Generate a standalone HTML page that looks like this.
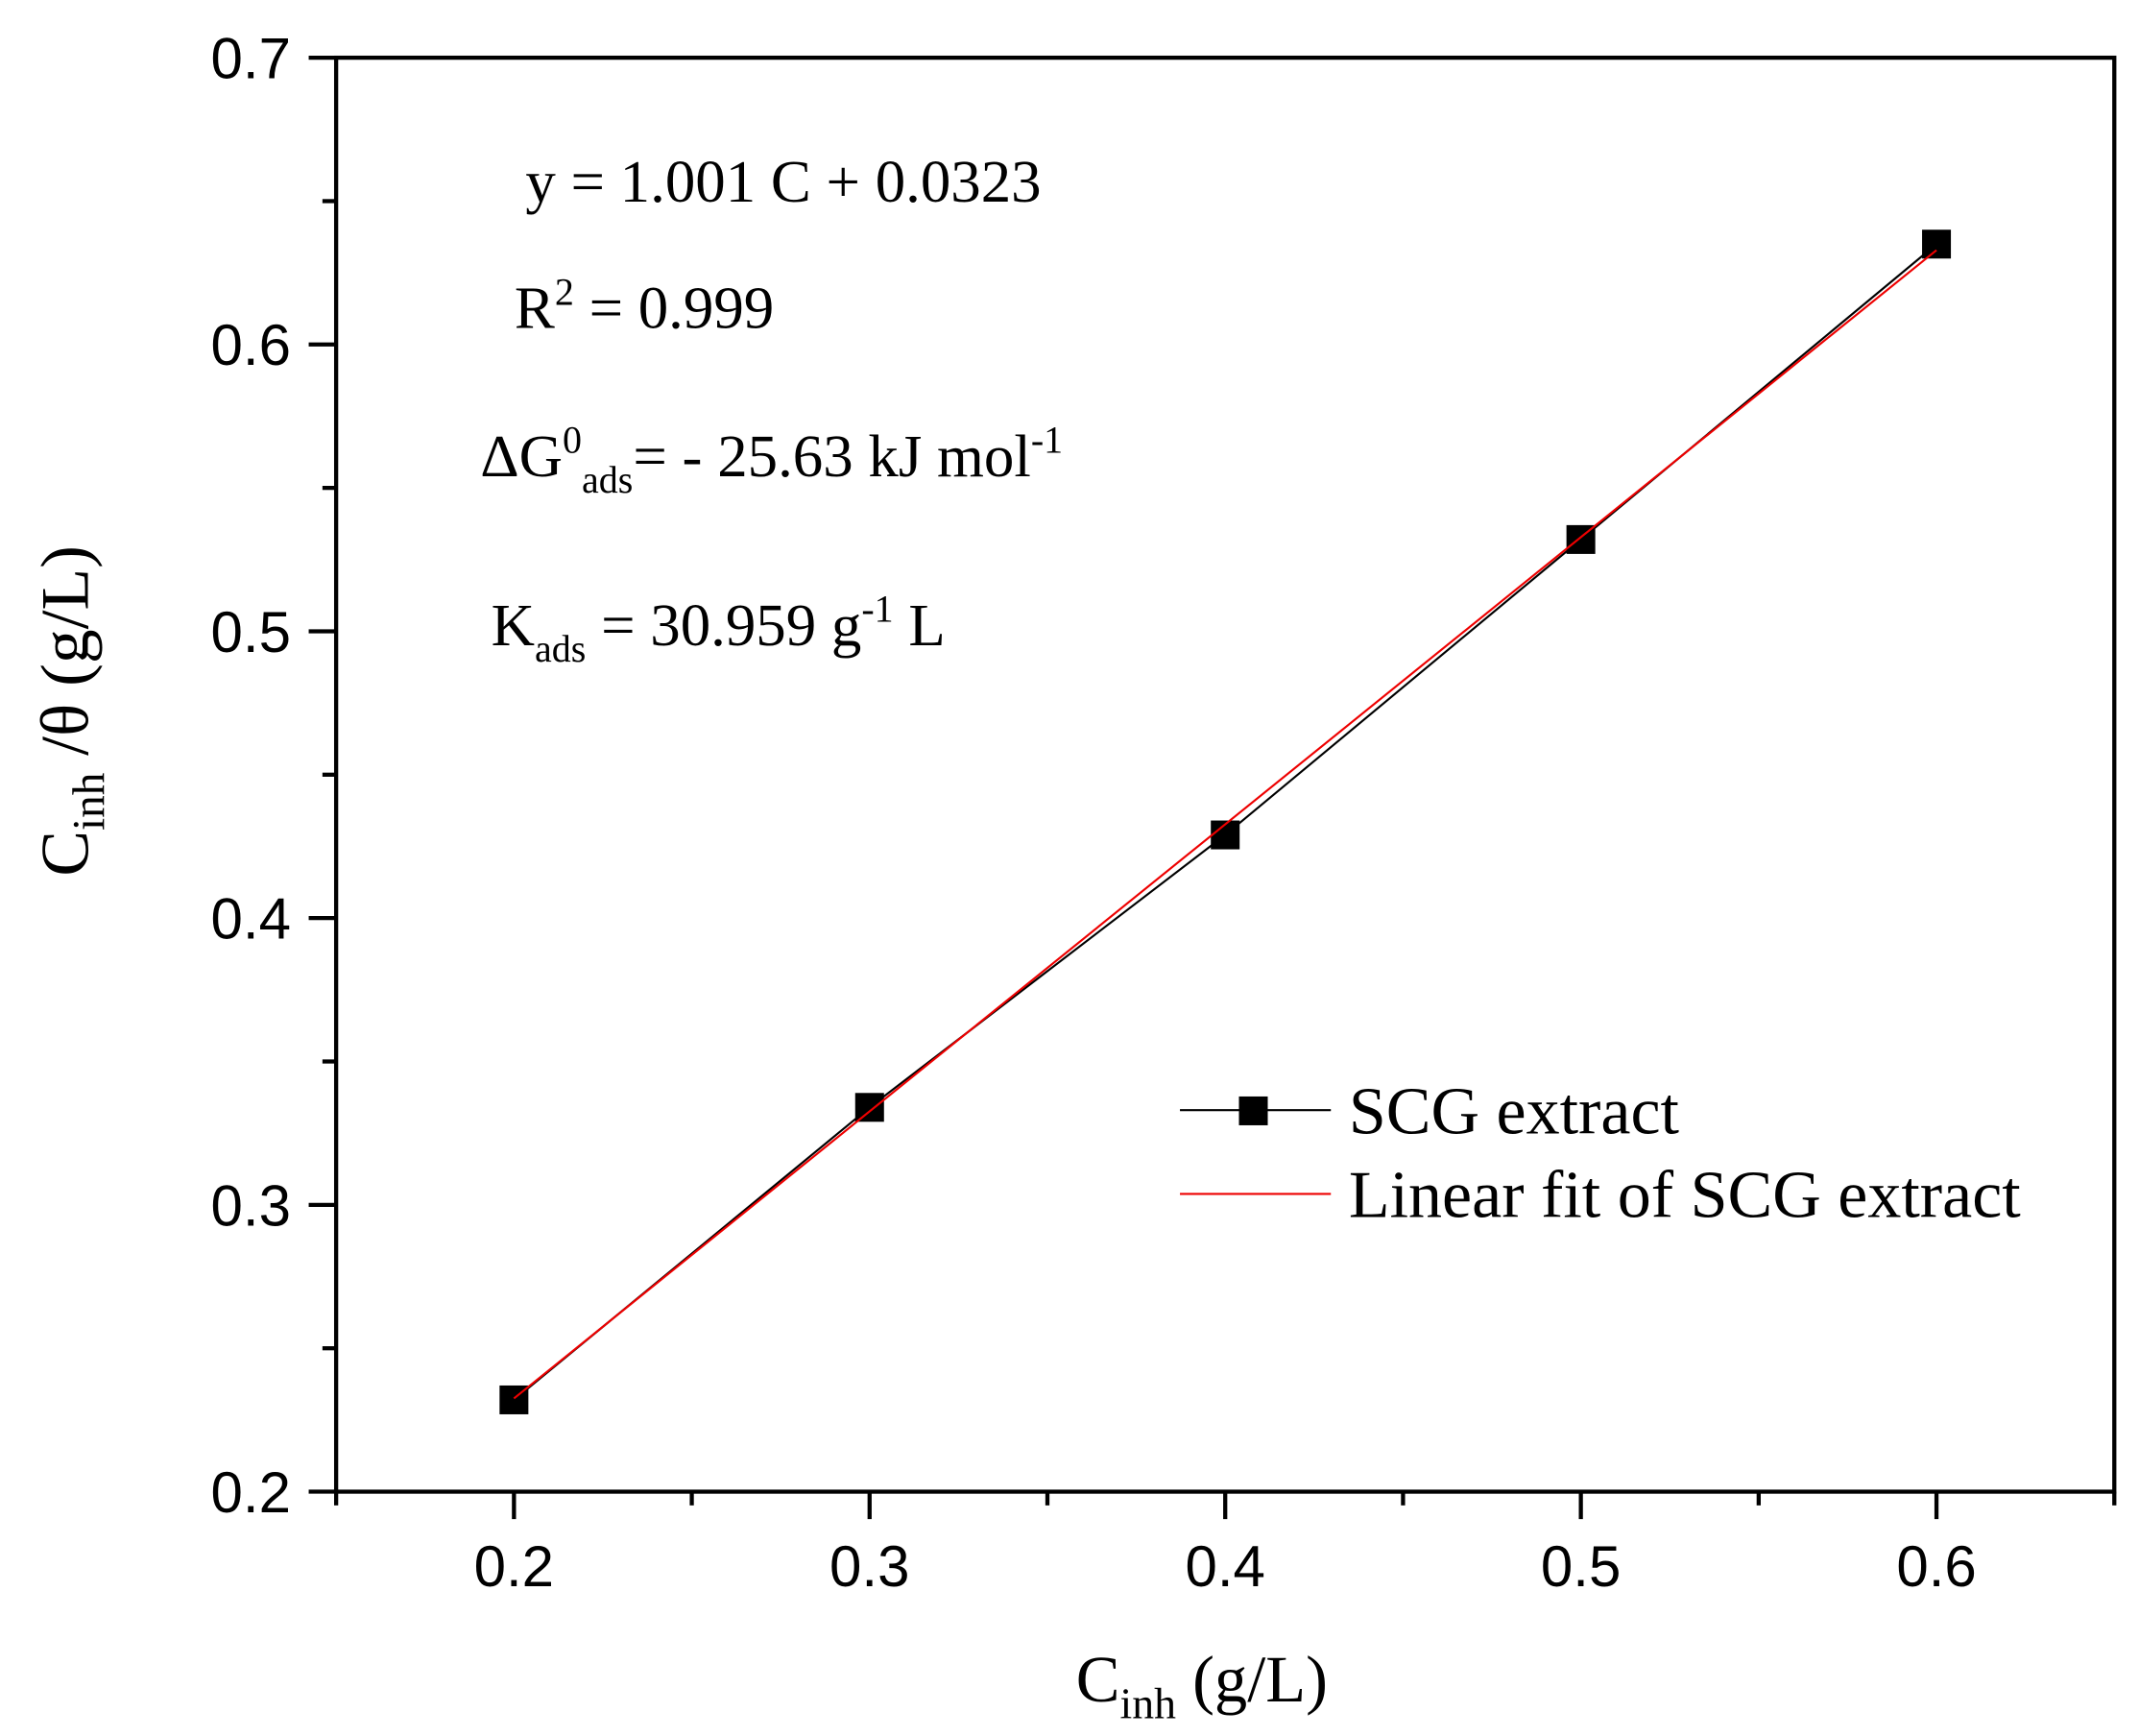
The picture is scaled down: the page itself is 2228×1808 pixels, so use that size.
<!DOCTYPE html>
<html><head><meta charset="utf-8"><style>html,body{margin:0;padding:0;background:#fff}svg{display:block}</style></head>
<body>
<svg id="chart" width="2228" height="1808" viewBox="0 0 1559 1265" xmlns="http://www.w3.org/2000/svg">
<rect width="1559" height="1265" fill="#fff"/>
<g id="axes"></g>
<g id="marks"></g>
<g font-family="Liberation Serif, serif" font-size="44" fill="#000">
<text x="383" y="147">y = 1.001 C + 0.0323</text>
<text x="375" y="239">R<tspan font-size="28" dy="-17">2</tspan><tspan dy="17"> = 0.999</tspan></text>
<text x="350" y="347">ΔG<tspan font-size="28" dy="-17">0</tspan><tspan font-size="28" dy="29">ads</tspan><tspan dy="-12">= - 25.63 kJ mol</tspan><tspan font-size="28" dy="-17">-1</tspan></text>
<text x="358" y="470">K<tspan font-size="28" dy="12">ads</tspan><tspan dy="-12"> = 30.959 g</tspan><tspan font-size="28" dy="-17">-1</tspan><tspan dy="17"> L</tspan></text>
<text x="876" y="1240" font-size="48" text-anchor="middle">C<tspan font-size="32" dy="12">inh</tspan><tspan dy="-12"> (g/L)</tspan></text>
<text transform="translate(64,518) rotate(-90)" font-size="50" text-anchor="middle">C<tspan font-size="33" dy="12">inh</tspan><tspan dy="-12"> /θ (g/L)</tspan></text>
</g>
<g font-family="Liberation Serif, serif" font-size="49">
<line x1="860" y1="809" x2="970" y2="809" stroke="#000" stroke-width="1.5"/>
<rect x="903" y="799" width="21" height="21" fill="#000"/>
<text x="983" y="826">SCG extract</text>
<line x1="860" y1="870" x2="970" y2="870" stroke="#e00" stroke-width="1.5"/>
<text x="983" y="887">Linear fit of SCG extract</text>
</g>
</svg>
<script>
const categories = [0.2, 0.3, 0.4, 0.5, 0.6];
const seriesValues = [0.232, 0.334, 0.429, 0.532, 0.635];
const fitSlope = 1.001;
const fitIntercept = 0.0323;
const xTickLabels = ["0.2","0.3","0.4","0.5","0.6"];
const yTickLabels = ["0.2","0.3","0.4","0.5","0.6","0.7"];
const NS = "http://www.w3.org/2000/svg";
const L=245,R=1541,T=42,B=1087, xmin=0.15,xmax=0.65,ymin=0.2,ymax=0.7;
const sx=v=>L+(v-xmin)/(xmax-xmin)*(R-L);
const sy=v=>B-(v-ymin)/(ymax-ymin)*(B-T);
function mk(tag,attrs,parent){const e=document.createElementNS(NS,tag);for(const k in attrs)e.setAttribute(k,attrs[k]);parent.appendChild(e);return e;}
const ax=document.getElementById('axes'), mg=document.getElementById('marks');
const frame=mk('rect',{x:L,y:T,width:R-L,height:B-T,fill:'none',stroke:'#000','stroke-width':3},ax);


xTickLabels.forEach(t=>{const v=parseFloat(t);const x=sx(v);
 mk('line',{x1:x,y1:B,x2:x,y2:B+20,stroke:'#000','stroke-width':3},ax);
 const tx=mk('text',{x:x,y:B+69,'text-anchor':'middle','font-family':'Liberation Sans, sans-serif','font-size':42},ax);tx.textContent=t;
 
 });
for(let v=xmin;v<=xmax+1e-9;v+=0.1){const x=sx(v);mk('line',{x1:x,y1:B,x2:x,y2:B+10,stroke:'#000','stroke-width':3},ax);}
yTickLabels.forEach(t=>{const v=parseFloat(t);const y=sy(v);
 mk('line',{x1:L-20,y1:y,x2:L,y2:y,stroke:'#000','stroke-width':3},ax);
 const tx=mk('text',{x:L-33,y:y+15,'text-anchor':'end','font-family':'Liberation Sans, sans-serif','font-size':42},ax);tx.textContent=t;
 
 });
for(let v=0.25;v<0.7;v+=0.1){const y=sy(v);mk('line',{x1:L-10,y1:y,x2:L,y2:y,stroke:'#000','stroke-width':3},ax);}
const pts=categories.map((c,i)=>sx(c)+','+sy(seriesValues[i])).join(' ');
const pl=mk('polyline',{points:pts,fill:'none',stroke:'#000','stroke-width':1.5},mg);


const x0=categories[0],x1=categories[categories.length-1];
const fl=mk('line',{x1:sx(x0),y1:sy(fitSlope*x0+fitIntercept),x2:sx(x1),y2:sy(fitSlope*x1+fitIntercept),stroke:'#e00','stroke-width':1.5},mg);


categories.forEach((c,i)=>{const r=mk('rect',{x:sx(c)-10.5,y:sy(seriesValues[i])-10.5,width:21,height:21,fill:'#000'},mg);
 
 });
mg.appendChild(fl);
</script>
</body></html>
